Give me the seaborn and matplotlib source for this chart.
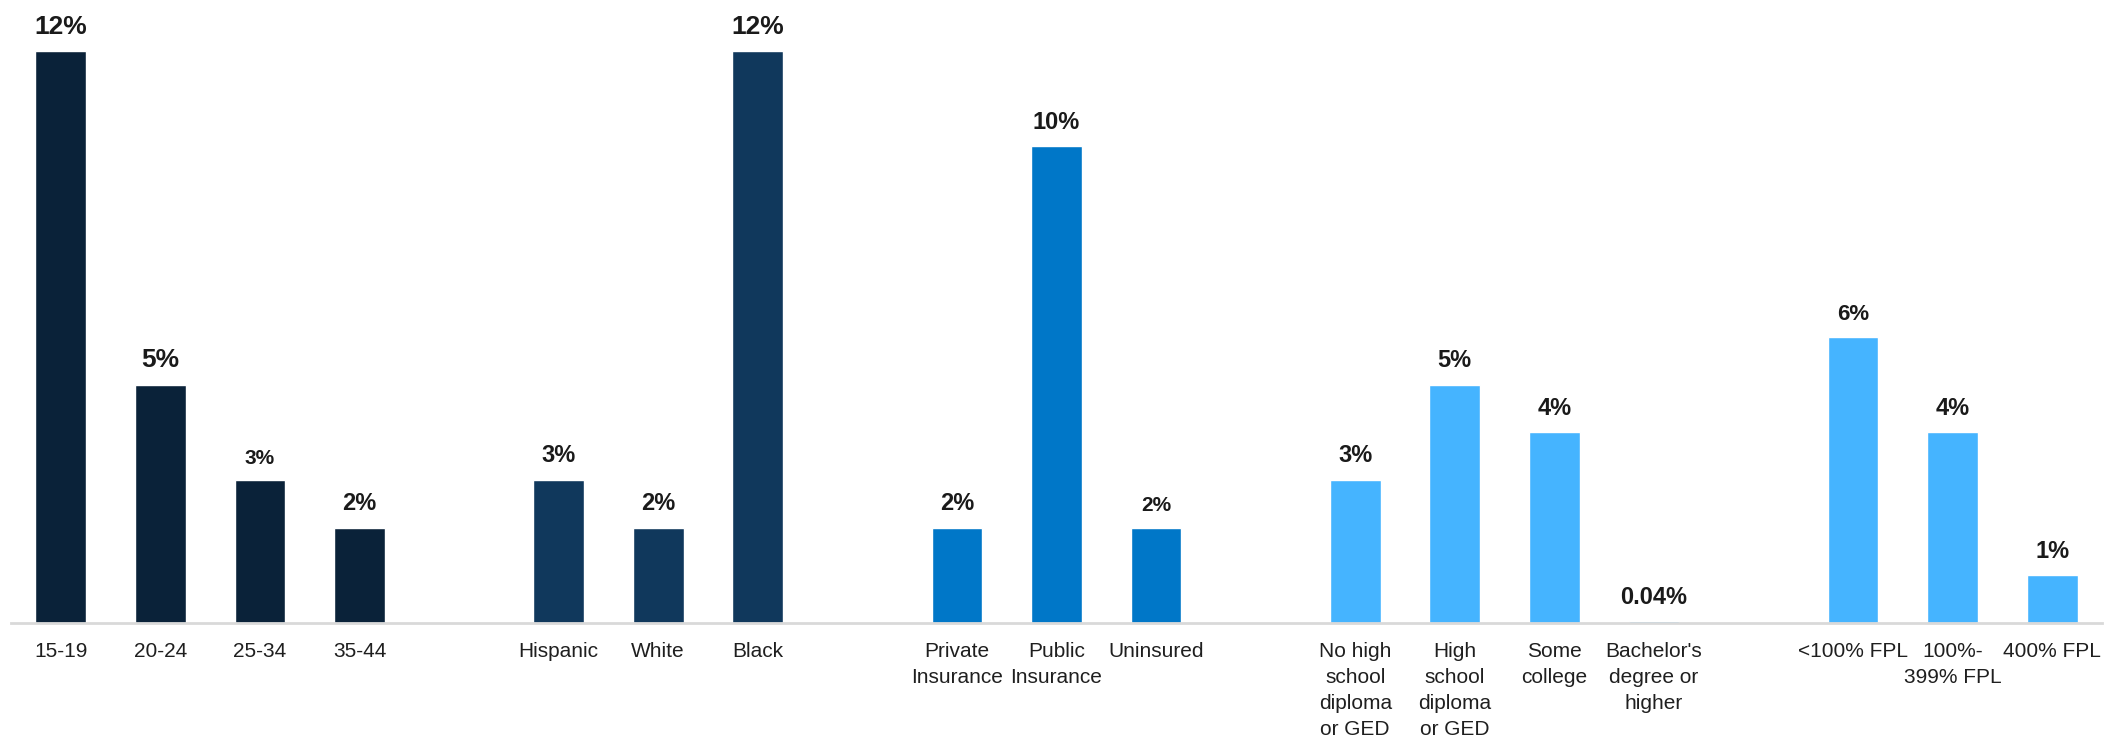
import seaborn as sns
import pandas as pd
import matplotlib.pyplot as plt

# chart values
groups = ["Age", "Age", "Age", "Age",
          "Race", "Race", "Race",
          "Insurance", "Insurance", "Insurance",
          "Education", "Education", "Education", "Education",
          "Income", "Income", "Income"]
categories = ["15-19", "20-24", "25-34", "35-44",
              "Hispanic", "White", "Black",
              "Private\nInsurance", "Public\nInsurance", "Uninsured",
              "No high\nschool\ndiploma\nor GED", "High\nschool\ndiploma\nor GED",
              "Some\ncollege", "Bachelor's\ndegree or\nhigher",
              "<100% FPL", "100%-\n399% FPL", "400% FPL"]
values = [12, 5, 3, 2,
          3, 2, 12,
          2, 10, 2,
          3, 5, 4, 0.04,
          6, 4, 1]
value_labels = ["12%", "5%", "3%", "2%",
                "3%", "2%", "12%",
                "2%", "10%", "2%",
                "3%", "5%", "4%", "0.04%",
                "6%", "4%", "1%"]

group_colors = {"Age": "#0A2239", "Race": "#10385C", "Insurance": "#0077C8",
                "Education": "#45B4FF", "Income": "#45B4FF"}
label_sizes = [19, 19, 15, 17, 17, 17, 19, 17, 17, 15, 17, 17, 17, 17, 16, 17, 17]

# category order with one blank slot between groups
order = []
prev = None
gap = 0
for g, c in zip(groups, categories):
    if prev is not None and g != prev:
        gap += 1
        order.append(" " * gap)
    order.append(c)
    prev = g

df = pd.DataFrame({"group": groups, "category": categories, "value": values})

sns.set_theme(style="white")
plt.rcParams["font.family"] = ["Liberation Sans", "DejaVu Sans"]

fig = plt.figure(figsize=(21.11, 7.51), dpi=100)
ax = fig.add_axes([11 / 2111, 1 - 623 / 751, 2091 / 2111, (623 - 51) / 751])

sns.barplot(data=df, x="category", y="value", hue="group", palette=group_colors,
            order=order, dodge=False, width=0.51, saturation=1, legend=False, ax=ax)

ax.set_xlim(-0.5, len(order) - 0.5)
ax.set_ylim(0, 12)
ax.set_xlabel("")
ax.set_ylabel("")
ax.set_yticks([])
sns.despine(ax=ax, left=True)
ax.spines["bottom"].set_color("#D9D9D9")
ax.spines["bottom"].set_linewidth(2)
ax.tick_params(axis="x", length=0, pad=14)
for t in ax.get_xticklabels():
    t.set_fontsize(15)
    t.set_color("#1f1f1f")
    t.set_linespacing(1.45)

for c, v, lab, fs in zip(categories, values, value_labels, label_sizes):
    ax.annotate(lab, (order.index(c), v), xytext=(0, 9), textcoords="offset points",
                ha="center", va="bottom", fontsize=fs, fontweight="bold",
                color="#1a1a1a", annotation_clip=False)

fig.savefig("out.png", dpi=100)
